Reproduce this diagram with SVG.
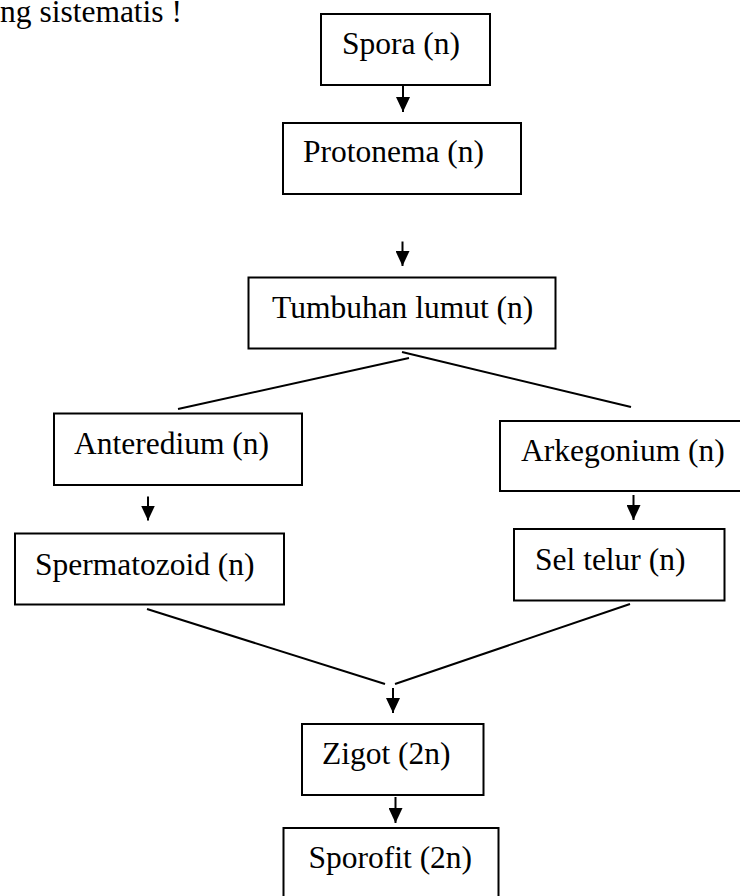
<svg xmlns="http://www.w3.org/2000/svg" width="740" height="896" viewBox="0 0 740 896">
<style>
  .box rect { fill: #fff; stroke: #000; stroke-width: 2; }
  text { font-family: "Liberation Serif", "Times New Roman", serif; font-size: 31.5px; fill: #000; }
  .conn line { stroke: #000; stroke-width: 2; fill: none; }
  .arr { marker-end: url(#ah); }
</style>
<defs>
  <marker id="ah" viewBox="0 0 15 14" refX="15" refY="7" markerWidth="15" markerHeight="14" markerUnits="userSpaceOnUse" orient="auto">
    <path d="M0,0 L15,7 L0,14 z" fill="#000"/>
  </marker>
</defs>
<rect width="740" height="896" fill="#fff"/>
<text x="0" y="22">ng sistematis !</text>

<g class="conn" id="connectors">
  <line class="arr" x1="403" y1="86" x2="403" y2="112"/>
  <line class="arr" x1="402.5" y1="241.5" x2="402.5" y2="266"/>
  <line class="arr" x1="148" y1="496.5" x2="148" y2="520.5"/>
  <line class="arr" x1="633.5" y1="495" x2="633.5" y2="520"/>
  <line class="arr" x1="393" y1="688" x2="393" y2="713"/>
  <line class="arr" x1="395.5" y1="797" x2="395.5" y2="823"/>
  <line x1="409" y1="358" x2="178" y2="409"/>
  <line x1="402" y1="352" x2="631" y2="407"/>
  <line x1="147" y1="609" x2="385" y2="684"/>
  <line x1="630" y1="604" x2="395" y2="684"/>
</g>

<g class="box" id="spora"><rect x="321" y="14" width="169" height="71"/><text x="342" y="54">Spora (n)</text></g>
<g class="box" id="protonema"><rect x="283" y="123" width="238" height="71"/><text x="303" y="162">Protonema (n)</text></g>
<g class="box" id="tumbuhan"><rect x="248.5" y="277.5" width="307" height="71"/><text x="272" y="318">Tumbuhan lumut (n)</text></g>
<g class="box" id="anteredium"><rect x="54" y="413.5" width="248" height="71.5"/><text x="74" y="454">Anteredium (n)</text></g>
<g class="box" id="spermatozoid"><rect x="15" y="533.5" width="269" height="71"/><text x="35" y="575">Spermatozoid (n)</text></g>
<g class="box" id="arkegonium"><rect x="500" y="421" width="250" height="70"/><text x="521" y="461">Arkegonium (n)</text></g>
<g class="box" id="seltelur"><rect x="514" y="529" width="210.5" height="71.5"/><text x="535" y="570">Sel telur (n)</text></g>
<g class="box" id="zigot"><rect x="302" y="724" width="181.5" height="71"/><text x="322" y="764">Zigot (2n)</text></g>
<g class="box" id="sporofit"><rect x="283.5" y="828" width="215" height="100"/><text x="308.5" y="868">Sporofit (2n)</text></g>
</svg>
